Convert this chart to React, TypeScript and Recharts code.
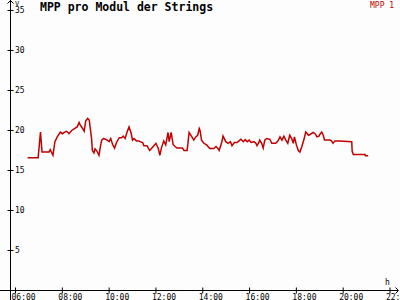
import { LineChart, Line, XAxis, YAxis } from 'recharts';

// Messzeitpunkte (hh:mm) und MPP-Spannung pro Modul [V]
const times = [
  '06:31', '06:58', '07:04', '07:08', '07:26', '07:29', '07:36', '07:41', '07:47', '07:55',
  '08:00', '08:06', '08:11', '08:17', '08:24', '08:32', '08:38', '08:43', '08:45', '08:52',
  '08:56', '09:00', '09:05', '09:09', '09:15', '09:17', '09:21', '09:24', '09:29', '09:34',
  '09:38', '09:41', '09:46', '09:55', '10:00', '10:04', '10:09', '10:14', '10:19', '10:26',
  '10:32', '10:36', '10:41', '10:46', '10:51', '10:56', '11:00', '11:04', '11:10', '11:17',
  '11:19', '11:26', '11:29', '11:37', '11:44', '11:53', '12:00', '12:06', '12:10', '12:14',
  '12:20', '12:25', '12:31', '12:34', '12:39', '12:44', '12:49', '12:54', '13:08', '13:12',
  '13:20', '13:25', '13:31', '13:37', '13:42', '13:47', '13:51', '13:53', '13:57', '14:03',
  '14:10', '14:18', '14:28', '14:34', '14:39', '14:42', '14:48', '14:52', '14:59', '15:05',
  '15:11', '15:15', '15:21', '15:28', '15:33', '15:38', '15:44', '15:49', '15:54', '15:59',
  '16:04', '16:11', '16:16', '16:19', '16:24', '16:26', '16:31', '16:35', '16:39', '16:44',
  '16:52', '16:57', '17:07', '17:13', '17:18', '17:23', '17:28', '17:33', '17:38', '17:43',
  '17:48', '17:52', '17:55', '18:00', '18:05', '18:09', '18:14', '18:19', '18:24', '18:28',
  '18:31', '18:35', '18:43', '18:48', '18:53', '18:58', '19:00', '19:05', '19:09', '19:12',
  '19:26', '19:30', '19:34', '19:39', '19:49', '20:22', '20:23', '20:26', '20:56', '20:57',
  '21:04',
];

const mpp1 = [
  16.6, 16.6, 19.8, 17.3, 17.3, 17.6, 16.9, 18.6, 19.2, 19.8,
  19.6, 19.8, 19.9, 19.6, 20.0, 20.25, 20.45, 21.0, 20.75, 20.25,
  19.9, 21.2, 21.5, 21.3, 19.0, 17.5, 17.2, 17.7, 17.4, 16.9,
  18.1, 18.8, 19.0, 18.8, 18.6, 19.0, 18.25, 17.8, 18.5, 19.1,
  19.1, 19.3, 19.0, 19.8, 20.45, 19.75, 18.8, 19.0, 18.7, 18.7,
  18.6, 18.5, 18.1, 18.1, 17.5, 18.0, 18.4, 17.75, 16.9, 17.8,
  18.7, 18.2, 19.75, 18.6, 19.75, 18.25, 18.0, 17.8, 17.8, 17.5,
  17.5, 19.75, 19.3, 18.8, 19.2, 19.4, 20.25, 20.0, 18.8, 18.4,
  18.2, 17.75, 17.75, 18.0, 17.75, 17.5, 18.4, 19.3, 18.6, 18.4,
  18.6, 18.1, 18.5, 18.5, 18.7, 18.9, 18.6, 18.85, 18.6, 18.8,
  18.5, 18.6, 18.4, 18.1, 18.5, 18.8, 18.4, 17.8, 18.8, 19.0,
  18.9, 18.4, 18.4, 18.7, 19.2, 18.8, 19.3, 18.8, 18.4, 19.4,
  19.0, 18.4, 19.2, 18.2, 17.5, 17.3, 18.0, 18.8, 19.8, 19.6,
  19.4, 19.5, 19.75, 19.6, 19.2, 19.3, 19.5, 19.8, 19.4, 18.8,
  18.8, 18.7, 18.4, 18.7, 18.7, 18.6, 17.4, 17.0, 17.0, 16.85,
  16.85,
];

const xTicks = [6, 8, 10, 12, 14, 16, 18, 20, 22];
const yTicks = [5, 10, 15, 20, 25, 30, 35];

const toHours = (t: string) => {
  const [hh, mm] = t.split(':').map(Number);
  return hh + mm / 60;
};

const data = times.map((t, i) => ({ h: toHours(t), v: mpp1[i] }));

const MONO = '"DejaVu Sans Mono", monospace';
const RED = '#c00000';

const fmtHour = (h: number) => `${String(h).padStart(2, '0')}:00`;

function XTick({ x, y, payload }: any) {
  return (
    <g>
      <line x1={x} x2={x} y1={y - 3} y2={y + 3} stroke="#000" />
      <text x={x - 4} y={y + 9} fontSize={8} fontFamily={MONO} fill="#000">
        {fmtHour(payload.value)}
      </text>
    </g>
  );
}

function YTick({ x, y, payload }: any) {
  return (
    <g>
      <line x1={x - 3} x2={x + 3} y1={y} y2={y} stroke="#000" />
      <text x={x + 4.5} y={y + 3} fontSize={8} fontFamily={MONO} fill="#000">
        {payload.value}
      </text>
    </g>
  );
}

export default function App() {
  return (
    <div style={{ position: 'absolute', left: 0, top: 0, width: 400, height: 300, background: '#fdfdfd' }}>
      <LineChart width={400} height={300} data={data} margin={{ top: 0, right: 2, bottom: 0, left: 9.5 }}>
        <XAxis
          dataKey="h"
          type="number"
          domain={[5.786, 22.342]}
          ticks={xTicks}
          interval={0}
          height={9.5}
          tickSize={0}
          tickMargin={0}
          tickLine={false}
          axisLine={{ stroke: '#000' }}
          tick={<XTick />}
          allowDataOverflow
        />
        <YAxis
          type="number"
          domain={[0, 36.31]}
          ticks={yTicks}
          interval={0}
          width={1}
          tickSize={0}
          tickMargin={0}
          tickLine={false}
          axisLine={{ stroke: '#000' }}
          tick={<YTick />}
          allowDataOverflow
        />
        <Line
          type="linear"
          dataKey="v"
          stroke={RED}
          strokeWidth={1.5}
          dot={false}
          isAnimationActive={false}
        />
      </LineChart>
      <svg width={400} height={300} style={{ position: 'absolute', left: 0, top: 0, pointerEvents: 'none' }}>
        <line x1={10.5} x2={10.5} y1={290} y2={300} stroke="#000" />
        <line x1={0} x2={11} y1={290.5} y2={290.5} stroke="#000" />
        <polyline points="7.5,3.5 10.5,0.5 13.5,3.5" fill="none" stroke="#000" />
        <polyline points="395.5,287.5 398.5,290.5 395.5,293.5" fill="none" stroke="#000" />
        <text x={15} y={6} fontSize={7} fontFamily={MONO} fill="#000">V</text>
        <text x={385} y={285} fontSize={8} fontFamily={MONO} fill="#000">h</text>
        <text x={40} y={11} fontSize={11.5} fontWeight="bold" fontFamily={MONO} fill="#000">
          MPP pro Modul der Strings
        </text>
        <text x={370} y={8} fontSize={8} fontFamily={MONO} fill={RED}>MPP 1</text>
      </svg>
    </div>
  );
}
